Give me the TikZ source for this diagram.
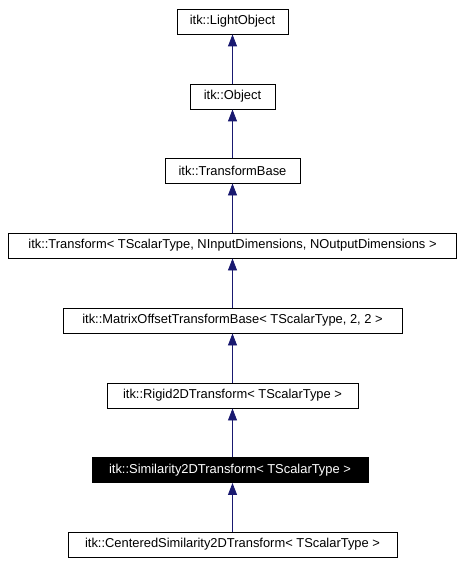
\documentclass[tikz,border=0pt]{standalone}
\usepackage{fontspec}
\setmainfont{Liberation Sans}
\usetikzlibrary{arrows.meta}
\definecolor{edgeblue}{RGB}{25,25,112}
\begin{document}
\begin{tikzpicture}[x=1pt,y=-1pt,
  cls/.style={draw=black,line width=0.9pt,fill=white,inner sep=0pt,minimum height=25pt,font=\fontsize{12.9}{14}\selectfont,text=black},
  cur/.style={cls,fill=black,text=white},
  inh/.style={draw=edgeblue,line width=0.9pt,-{Triangle[width=9pt,length=12pt]}}]
\useasboundingbox (0,0) rectangle (463,564);
\node[cls,minimum width=111pt] (lo) at (232.5,21.5) {itk::LightObject};
\node[cls,minimum width=85pt] (ob) at (232.5,96.5) {itk::Object};
\node[cls,minimum width=135pt] (tb) at (232.5,170.5) {itk::TransformBase};
\node[cls,minimum width=448pt] (tr) at (232.5,245.5) {itk::Transform< TScalarType, NInputDimensions, NOutputDimensions >};
\node[cls,minimum width=339pt] (mo) at (232.5,320.5) {itk::MatrixOffsetTransformBase< TScalarType, 2, 2 >};
\node[cls,minimum width=251pt] (rg) at (232.5,395.5) {itk::Rigid2DTransform< TScalarType >};
\node[cur,minimum width=276pt] (sm) at (230,470) {itk::Similarity2DTransform< TScalarType >};
\node[cls,minimum width=329pt] (cs) at (232.5,544.5) {itk::CenteredSimilarity2DTransform< TScalarType >};
\draw[inh] (ob.north) -- (lo.south);
\draw[inh] (tb.north) -- (ob.south);
\draw[inh] (tr.north) -- (tb.south);
\draw[inh] (mo.north) -- (tr.south);
\draw[inh] (rg.north) -- (mo.south);
\draw[inh] (sm.north -| rg.south) -- (rg.south);
\draw[inh] (cs.north) -- (cs.north |- sm.south);
\end{tikzpicture}
\end{document}
